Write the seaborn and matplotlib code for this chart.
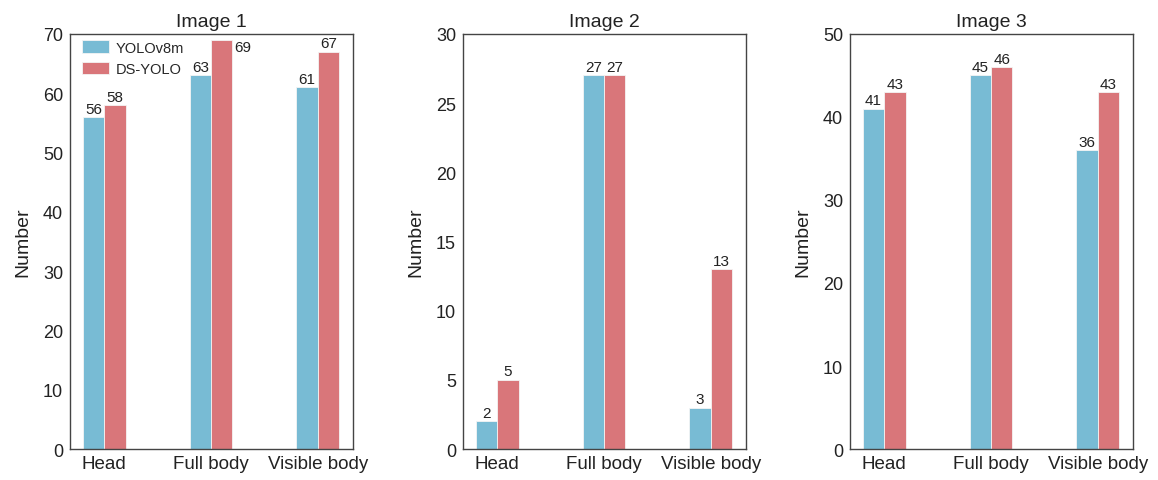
import numpy as np
import pandas as pd
import matplotlib.pyplot as plt
import seaborn as sns

categories = ["Head", "Full body", "Visible body"]
models = ["YOLOv8m", "DS-YOLO"]
titles = ["Image 1", "Image 2", "Image 3"]
yolov8m = [[56, 63, 61], [2, 27, 3], [41, 45, 36]]
ds_yolo = [[58, 69, 67], [5, 27, 13], [43, 46, 43]]
ylims = [70, 30, 50]
yticks = [[0, 10, 20, 30, 40, 50, 60, 70], [0, 5, 10, 15, 20, 25, 30], [0, 10, 20, 30, 40, 50]]

colors = ["#78BBD4", "#D9767A"]

sns.set_theme(style="white")
plt.rcParams["font.family"] = ["Liberation Sans", "DejaVu Sans"]

fig = plt.figure(figsize=(11.58, 4.81), dpi=100)
lefts = [0.0605, 0.3998, 0.734]

for i in range(3):
    ax = fig.add_axes([lefts[i], 0.0644, 0.2444, 0.863])
    df = pd.DataFrame({
        "category": categories * 2,
        "value": yolov8m[i] + ds_yolo[i],
        "model": [models[0]] * 3 + [models[1]] * 3,
    })
    sns.barplot(data=df, x="category", y="value", hue="model", palette=colors,
                width=0.4, edgecolor="#f4f4f4", linewidth=0.6, ax=ax,
                legend=(i == 0), saturation=1)
    ax.set_xlim(-0.32, 2.33)
    ax.set_ylim(0, ylims[i])
    ax.set_yticks(yticks[i])
    ax.set_xlabel("")
    ax.set_ylabel("Number", fontsize=14, color="#222222", labelpad=8)
    ax.set_title(titles[i], fontsize=14, color="#222222", pad=6)
    ax.tick_params(axis="both", direction="in", length=4, width=1,
                   color="#333333", labelsize=13, labelcolor="#222222")
    ax.tick_params(axis="x", labelsize=13.5, pad=4)
    ax.tick_params(axis="y", pad=5)
    for s in ax.spines.values():
        s.set_color("#444444")
        s.set_linewidth(1)
    for cont in ax.containers:
        for p in cont:
            h = p.get_height()
            x = p.get_x() + p.get_width() / 2
            if h + ylims[i] * 0.04 > ylims[i]:
                ax.annotate(f"{int(h)}", (p.get_x() + p.get_width(), h),
                            xytext=(1.5, 0), textcoords="offset points",
                            ha="left", va="top", fontsize=11, color="#222222")
            else:
                ax.annotate(f"{int(h)}", (x, h), xytext=(0, 1),
                            textcoords="offset points", ha="center",
                            va="bottom", fontsize=11, color="#222222")
    if i == 0:
        ax.legend(loc="upper left", bbox_to_anchor=(0.02, 1.0), frameon=False,
                  fontsize=10.5, handlelength=1.8, handleheight=0.9,
                  borderaxespad=0.2, labelspacing=0.5, handletextpad=0.5,
                  borderpad=0.25, title=None)

fig.savefig("out.png", dpi=100)
